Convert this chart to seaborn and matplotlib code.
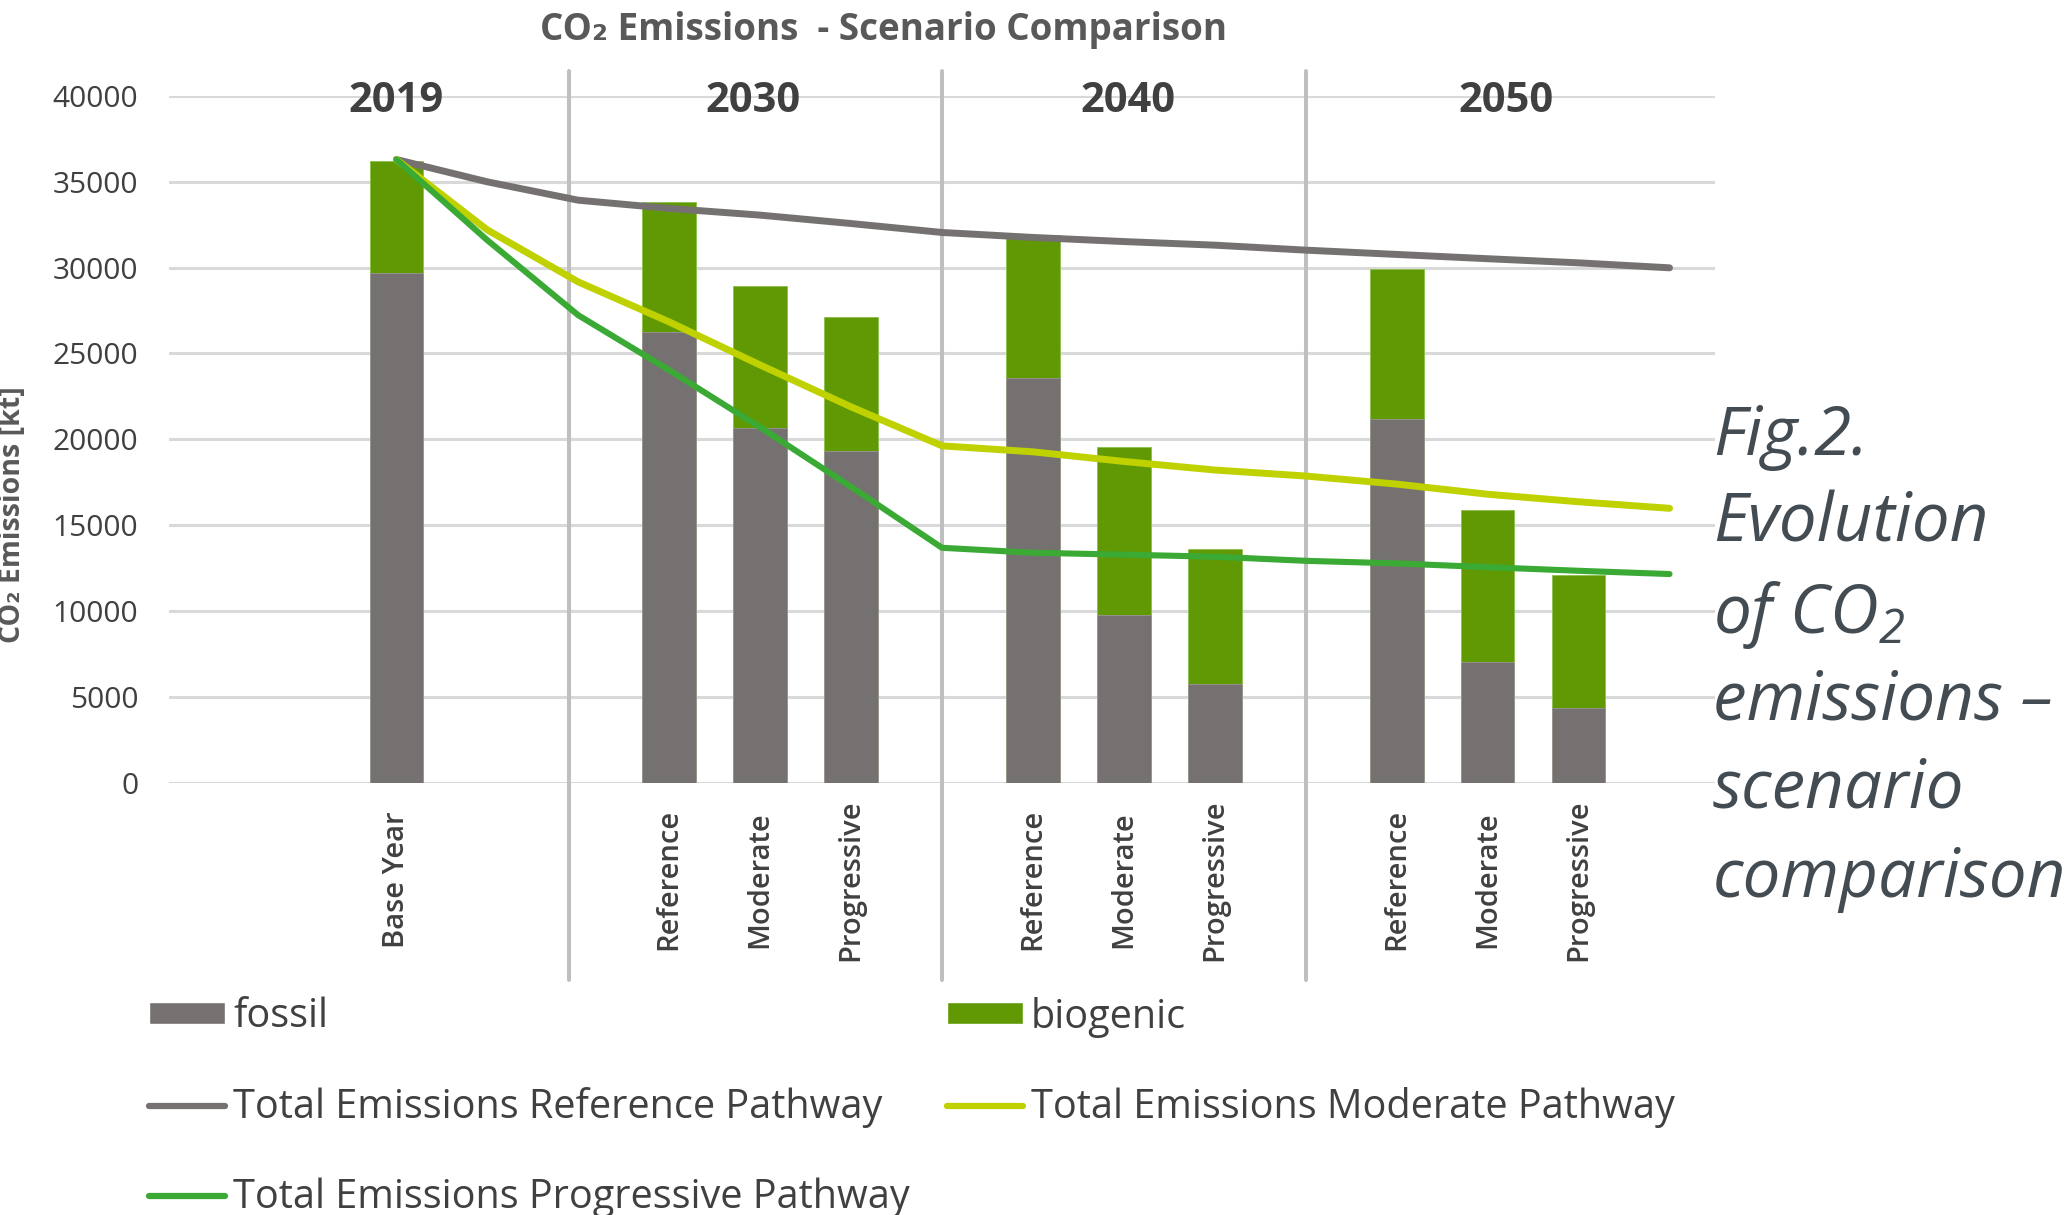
import matplotlib
matplotlib.use("Agg")
import matplotlib.pyplot as plt
import seaborn as sns
import pandas as pd
import numpy as np
from matplotlib.patches import Patch
from matplotlib.lines import Line2D
from matplotlib.transforms import blended_transform_factory

# ---------------- data ----------------
slot_labels = ["", "", "Base Year", "", "",
               "Reference", "Moderate", "Progressive", "",
               "Reference", "Moderate", "Progressive", "",
               "Reference", "Moderate", "Progressive", ""]
fossil = [29660, 26260, 20680, 19290, 23590, 9790, 5760, 21200, 7010, 4370]
biogenic = [6580, 7570, 8240, 7850, 8340, 9740, 7840, 8720, 8870, 7700]
ref_line = [36300, 35000, 33930, 33450, 33060, 32570, 32050, 31760, 31520,
            31310, 31020, 30770, 30520, 30280, 29990]
mod_line = [36300, 32200, 29170, 26840, 24330, 21890, 19620, 19270, 18710,
            18210, 17860, 17390, 16800, 16360, 15980]
prog_line = [36300, 31600, 27230, 24030, 20700, 17230, 13680, 13390, 13280,
             13160, 12920, 12770, 12550, 12340, 12150]
line_start_slot = 2
years = ["2019", "2030", "2040", "2050"]
y_ticks = [0, 5000, 10000, 15000, 20000, 25000, 30000, 35000, 40000]

title = "CO\u2082 Emissions  - Scenario Comparison"
y_label = "CO\u2082 Emissions [kt]"
legend_labels = ["fossil", "biogenic", "Total Emissions Reference Pathway",
                 "Total Emissions Moderate Pathway", "Total Emissions Progressive Pathway"]
caption_lines = ["Fig.2.", "Evolution", "of CO$_{2}$", "emissions \u2013", "scenario", "comparison"]

# ---------------- styles ----------------
C_FOSSIL = "#767171"
C_BIO = "#609903"
C_REF = "#767171"
C_MOD = "#bfd200"
C_PROG = "#3aaa35"
C_TEXT = "#404040"

sns.set_theme(style="white")
plt.rcParams["font.family"] = ["Open Sans", "DejaVu Sans"]
plt.rcParams["mathtext.fontset"] = "custom"
plt.rcParams["mathtext.rm"] = "Open Sans:italic"
plt.rcParams["mathtext.it"] = "Open Sans:italic"

W, H = 2069, 1215
fig = plt.figure(figsize=(W / 100, H / 100), dpi=100)
ax_left, ax_right, ax_top, ax_bot = 169, 1715, 96, 782.6
ax = fig.add_axes([ax_left / W, 1 - ax_bot / H, (ax_right - ax_left) / W, (ax_bot - ax_top) / H])

bar_slots = [i for i, s in enumerate(slot_labels) if s]
bars = pd.DataFrame({"slot": bar_slots,
                     "label": [slot_labels[i] for i in bar_slots],
                     "fossil": fossil, "biogenic": biogenic})
bars["total"] = bars["fossil"] + bars["biogenic"]

for yv in y_ticks:
    ax.axhline(yv, color="#d9d9d9", lw=2.2, zorder=0)

sns.barplot(data=bars, x="slot", y="total", native_scale=True, orient="x",
            color=C_BIO, saturation=1, width=0.59, errorbar=None, ax=ax, zorder=2,
            edgecolor="#8cc04a", linewidth=0.6)
sns.barplot(data=bars, x="slot", y="fossil", native_scale=True, orient="x",
            color=C_FOSSIL, saturation=1, width=0.59, errorbar=None, ax=ax, zorder=3,
            edgecolor="#9a9696", linewidth=0.6)

line_slots = list(range(line_start_slot, line_start_slot + len(ref_line)))
lines = pd.DataFrame({"slot": line_slots * 3,
                      "value": ref_line + mod_line + prog_line,
                      "series": ["ref"] * len(ref_line) + ["mod"] * len(mod_line) + ["prog"] * len(prog_line)})
for key, col, lw in [("ref", C_REF, 5.0), ("mod", C_MOD, 5.0), ("prog", C_PROG, 4.4)]:
    sub = lines[lines["series"] == key]
    sns.lineplot(data=sub, x="slot", y="value", color=col, lw=lw, ax=ax, zorder=4,
                 solid_capstyle="round", solid_joinstyle="round", legend=False)

ax.set_xlim(-0.5, len(slot_labels) - 0.5)
ax.set_ylim(0, 40000)
for sp in ax.spines.values():
    sp.set_visible(False)
ax.set_xlabel("")
ax.set_ylabel("")
ax.set_yticks(y_ticks)
ax.set_yticklabels([str(v) for v in y_ticks], fontsize=21.5, color=C_TEXT)
ax.tick_params(axis="y", length=0, pad=22)
ax.set_xticks(bar_slots)
ax.set_xticklabels(bars["label"], rotation=90, fontsize=21, fontweight="semibold", color=C_TEXT)
for t in ax.get_xticklabels():
    t.set_va("center")
ax.tick_params(axis="x", length=0, pad=70)
ax.grid(False)

# group dividers
trans = blended_transform_factory(ax.transData, ax.transAxes)
y_top = (ax_bot - 71) / (ax_bot - ax_top)
y_bottom = (ax_bot - 980) / (ax_bot - ax_top)
for xd in [3.9, 8.0, 12.0]:
    ax.plot([xd, xd], [y_bottom, y_top], transform=trans, color="#bfbfbf", lw=2.9,
            clip_on=False, zorder=1)

# year group labels
for yr, xg in zip(years, [2.0, 5.92, 10.05, 14.2]):
    ax.text(xg, 40000, yr, ha="center", va="center_baseline", fontsize=30, fontweight="bold",
            color=C_TEXT, zorder=5)

fig.text(884 / W, 1 - 30 / H, title, ha="center", va="center", fontsize=26.5,
         fontweight="bold", color="#595959")
fig.text(13 / W, 1 - 515 / H, y_label, ha="center", va="center", rotation=90,
         fontsize=20.5, fontweight="bold", color="#595959")

# legend entries
FS_LEG = 28.5
em = FS_LEG * 100 / 72
handles = [Patch(facecolor=C_FOSSIL), Patch(facecolor=C_BIO),
           Line2D([], [], color=C_REF, lw=4.5), Line2D([], [], color=C_MOD, lw=4.5),
           Line2D([], [], color=C_PROG, lw=4.5)]
positions = [(149, 1017), (947, 1017), (149, 1108), (947, 1108), (149, 1198)]
for h, lab, (px, py) in zip(handles, legend_labels, positions):
    fig.legend([h], [lab], loc="center left", bbox_to_anchor=(px / W, 1 - py / H),
               frameon=False, fontsize=FS_LEG, borderpad=0, borderaxespad=0,
               handlelength=76 / em, handleheight=19 / em, handletextpad=8 / em,
               labelcolor=C_TEXT)

# caption
baselines = [455, 542, 633, 719, 807, 897]
for txt, b in zip(caption_lines, baselines):
    fig.text(1713 / W, 1 - b / H, txt, ha="left", va="baseline", fontsize=48.5,
             style="italic", color="#434c53")

fig.savefig("out.png", dpi=100)
